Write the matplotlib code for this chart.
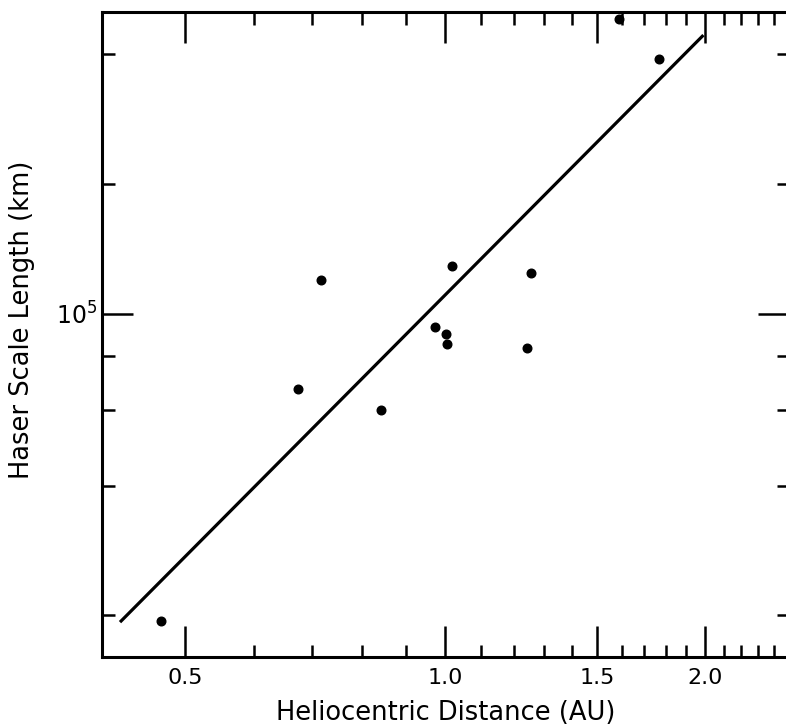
import matplotlib
matplotlib.use("Agg")
import matplotlib.pyplot as plt
from matplotlib.ticker import FixedLocator, FixedFormatter, NullFormatter

# heliocentric distance (AU) and Haser scale length (km)
r_au = [0.468, 0.676, 0.717, 0.842, 0.973, 1.003, 1.004, 1.019, 1.242, 1.255, 1.587, 1.767]
scale_km = [1.94e4, 6.69e4, 1.20e5, 6.0e4, 9.34e4, 8.98e4, 8.49e4, 1.29e5, 8.32e4, 1.24e5, 4.82e5, 3.90e5]

# fitted line end points
fit_r = [0.42, 1.99]
fit_km = [1.93e4, 4.42e5]

x_major = [0.5, 1.0, 1.5, 2.0]
x_major_labels = ["0.5", "1.0", "1.5", "2.0"]
x_minor = [0.6, 0.7, 0.8, 0.9, 1.1, 1.2, 1.3, 1.4, 1.6, 1.7, 1.8, 1.9, 2.1, 2.2, 2.3, 2.4]
y_major = [1e5]
y_major_labels = ["$10^5$"]
y_minor = [2e4, 4e4, 6e4, 8e4, 2e5, 4e5]

plt.rcParams["mathtext.default"] = "regular"
plt.rcParams["font.family"] = ["DejaVu Sans"]

fig = plt.figure(figsize=(7.86, 7.27), dpi=100)
ax = fig.add_axes([101.7 / 786, 1 - 657.3 / 727, (789 - 101.7) / 786, (657.3 - 12) / 727])

ax.plot(fit_r, fit_km, color="black", linewidth=2.3, solid_capstyle="butt")
ax.plot(r_au, scale_km, "o", color="black", markersize=6.2)

ax.set_xscale("log")
ax.set_yscale("log")
ax.set_xlim(0.4, 2.5)
ax.set_ylim(1.6e4, 5e5)

ax.xaxis.set_major_locator(FixedLocator(x_major))
ax.xaxis.set_major_formatter(FixedFormatter(x_major_labels))
ax.xaxis.set_minor_locator(FixedLocator(x_minor))
ax.xaxis.set_minor_formatter(NullFormatter())
ax.yaxis.set_major_locator(FixedLocator(y_major))
ax.yaxis.set_major_formatter(FixedFormatter(y_major_labels))
ax.yaxis.set_minor_locator(FixedLocator(y_minor))
ax.yaxis.set_minor_formatter(NullFormatter())

ax.tick_params(which="both", direction="in", top=True, right=True, width=1.8, color="black")
ax.tick_params(which="major", length=22)
ax.tick_params(which="minor", length=9)
ax.tick_params(axis="x", which="major", labelsize=16, pad=8)
ax.tick_params(axis="y", which="major", labelsize=17, pad=3)

for s in ax.spines.values():
    s.set_linewidth(2.2)

ax.set_xlabel("Heliocentric Distance (AU)", fontsize=18.5, va="top")
ax.set_ylabel("Haser Scale Length (km)", fontsize=18.5)
ax.xaxis.set_label_coords(0.5, -0.066)
ax.yaxis.set_label_coords(-0.097, 0.523)

fig.savefig("out.png", dpi=100)
